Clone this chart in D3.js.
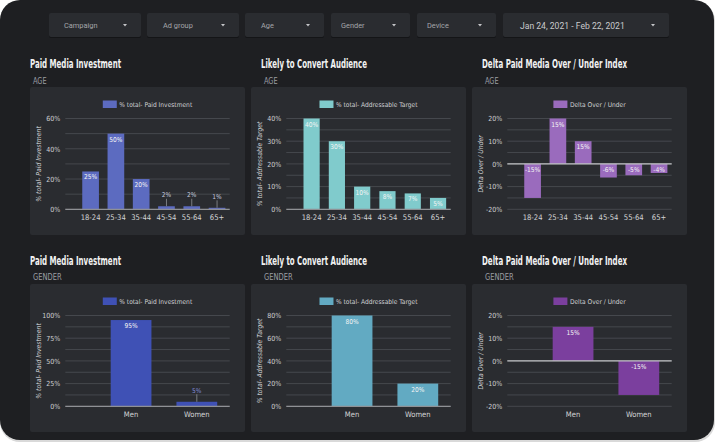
<!DOCTYPE html>
<html>
<head>
<meta charset="utf-8">
<script src="https://cdn.jsdelivr.net/npm/d3@7"></script>
<style>
html, body { margin: 0; padding: 0; background: #ffffff; }
svg { display: block; }
.chart_text { font-family: "Liberation Sans Narrow", "DejaVu Sans Condensed", Roboto, sans-serif; }
.filter_text { font-family: Roboto, "Noto Sans", sans-serif; }
</style>
</head>
<body>
<svg id="view" width="718" height="443"></svg>
<script>

// ---- data ----
var filter_labels= ["Campaign", "Ad group", "Age", "Gender", "Device", "Jan 24, 2021 - Feb 22, 2021"];

var age_groups= ["18-24", "25-34", "35-44", "45-54", "55-64", "65+"];
var gender_groups= ["Men", "Women"];

var age_paid= [25, 50, 20, 2, 2, 1];
var age_paid_labels= ["25%", "50%", "20%", "2%", "2%", "1%"];
var age_target= [40, 30, 10, 8, 7, 5];
var age_target_labels= ["40%", "30%", "10%", "8%", "7%", "5%"];
var age_delta= [-15, 20, 10, -6, -5, -4];
var age_delta_labels= ["-15%", "15%", "15%", "-6%", "-5%", "-4%"];

var gender_paid= [95, 5];
var gender_paid_labels= ["95%", "5%"];
var gender_target= [80, 20];
var gender_target_labels= ["80%", "20%"];
var gender_delta= [15, -15];
var gender_delta_labels= ["15%", "-15%"];

var ticks_age_paid= [0, 20, 40, 60];
var ticks_age_target= [0, 10, 20, 30, 40];
var ticks_delta= [-20, -10, 0, 10, 20];
var ticks_gender_paid= [0, 25, 50, 75, 100];
var ticks_gender_target= [0, 20, 40, 60, 80];

var series_paid= "% total- Paid Investment";
var series_target= "% total- Addressable Target";
var series_delta= "Delta Over / Under";

// ---- page ----
var svg= d3.select("#view");

svg.append("rect")
	.attr("x", 0).attr("y", 1)
	.attr("width", 715).attr("height", 441)
	.attr("rx", 20)
	.attr("fill", "#d9d9d9");

svg.append("rect")
	.attr("x", 0).attr("y", 0)
	.attr("width", 714).attr("height", 440)
	.attr("rx", 20)
	.attr("fill", "#1e1f22");

// filter bar
var filter_x= [49, 147, 245, 331, 417, 503];
var filter_w= [92, 92, 79, 79, 79, 166];
var filter_pad= [15, 16, 16, 10, 10, 17];

for ((i= 0); (i< filter_labels.length); (i++)) {
	var fg= svg.append("g").attr("transform", "translate(" + filter_x[i] + ",13)");
	fg.append("rect")
		.attr("y", 1)
		.attr("width", filter_w[i]).attr("height", 24)
		.attr("rx", 2)
		.attr("fill", "#141517");
	fg.append("rect")
		.attr("width", filter_w[i]).attr("height", 24)
		.attr("rx", 2)
		.attr("fill", "#2a2c30");
	fg.append("text")
		.attr("class", "filter_text")
		.attr("x", filter_pad[i])
		.attr("y", 12.5)
		.attr("dominant-baseline", "central")
		.attr("font-size", (i== 5) ? 8.6 : 7.4)
		.attr("fill", (i== 5) ? "#c9cacc" : "#a4a6aa")
		.text(filter_labels[i]);
	var tx= filter_w[i]- 16;
	fg.append("path")
		.attr("d", "M" + (tx- 2) + ",11 L" + (tx+ 2) + ",11 L" + tx + ",13.5 Z")
		.attr("fill", "#c4c5c8");
}

// titles
function add_title(x, y, title, tlen, sub, slen) {
	svg.append("text")
		.attr("class", "chart_text")
		.attr("x", x).attr("y", y)
		.attr("font-size", 12.5)
		.attr("font-weight", "bold")
		.attr("fill", "#f2f2f2")
		.attr("textLength", tlen)
		.attr("lengthAdjust", "spacingAndGlyphs")
		.text(title);
	svg.append("text")
		.attr("class", "chart_text")
		.attr("x", x+ 3).attr("y", y+ 15.5)
		.attr("font-size", 9.4)
		.attr("fill", "#9c9ea2")
		.attr("textLength", slen)
		.attr("lengthAdjust", "spacingAndGlyphs")
		.text(sub);
}

add_title(30, 68, "Paid Media Investment", 91, "AGE", 13.6);
add_title(261, 68, "Likely to Convert Audience", 106, "AGE", 13.6);
add_title(482, 68, "Delta Paid Media Over / Under Index", 145, "AGE", 13.6);
add_title(30, 264.5, "Paid Media Investment", 91, "GENDER", 28.6);
add_title(261, 264.5, "Likely to Convert Audience", 106, "GENDER", 28.6);
add_title(482, 264.5, "Delta Paid Media Over / Under Index", 145, "GENDER", 28.6);

// one bar chart panel
function draw_panel(cfg) {
	var pw= 215, ph= 148;
	var left= 35.3, right= pw- 15.3, top= 31.5, bottom= 122.3;

	var g= svg.append("g")
		.attr("transform", "translate(" + cfg.x + "," + cfg.y + ")");

	g.append("rect")
		.attr("width", pw).attr("height", ph)
		.attr("rx", 2)
		.attr("fill", "#2a2c30");

	var n= cfg.cats.length;
	var step= (right- left)/(n+ 0.5);

	var x= d3.scaleBand()
		.domain(cfg.cats)
		.range([left+ step/2, right])
		.paddingInner(cfg.pad)
		.paddingOuter(cfg.pad/2);

	var y= d3.scaleLinear()
		.domain([cfg.ticks[0], cfg.ticks[cfg.ticks.length- 1]])
		.range([bottom, top]);

	// grid
	var grid_vals= d3.range(cfg.ticks[0], cfg.ticks[cfg.ticks.length- 1]+ 0.001, cfg.grid);
	g.selectAll(".grid")
		.data(grid_vals)
		.enter().append("line")
			.attr("x1", left).attr("x2", right)
			.attr("y1", function(d) { return y(d); })
			.attr("y2", function(d) { return y(d); })
			.attr("stroke", "#45484d")
			.attr("stroke-width", 1);

	// y axis
	var y_axis= g.append("g")
		.attr("transform", "translate(" + left + ",0)")
		.call(d3.axisLeft(y)
			.tickValues(cfg.ticks)
			.tickSize(0)
			.tickPadding(5)
			.tickFormat(function(d) { return d + "%"; }));
	y_axis.select(".domain").remove();
	y_axis.selectAll("text")
		.attr("class", "chart_text")
		.attr("font-size", 7)
		.attr("fill", "#cfd0d2");

	// x axis
	var x_axis= g.append("g")
		.attr("transform", "translate(0," + bottom + ")")
		.call(d3.axisBottom(x).tickSize(0).tickPadding(5));
	x_axis.select(".domain").remove();
	x_axis.selectAll("text")
		.attr("class", "chart_text")
		.attr("font-size", 7.6)
		.attr("fill", "#d3d4d6");

	// bars
	var rows= cfg.cats.map(function(c, i) {
		return { cat: c, value: cfg.values[i], label: cfg.labels[i] };
	});

	g.selectAll(".bar")
		.data(rows)
		.enter().append("rect")
			.attr("x", function(d) { return x(d.cat); })
			.attr("y", function(d) { return Math.min(y(d.value), y(0)); })
			.attr("width", x.bandwidth())
			.attr("height", function(d) { return Math.abs(y(d.value)- y(0)); })
			.attr("fill", cfg.color);

	// zero line
	g.append("line")
		.attr("x1", left).attr("x2", right)
		.attr("y1", y(0)).attr("y2", y(0))
		.attr("stroke", cfg.zero_color)
		.attr("stroke-width", 1.2);

	// value labels
	rows.forEach(function(d) {
		var h= Math.abs(y(d.value)- y(0));
		var cx= x(d.cat)+ x.bandwidth()/2;
		if (h< 8 && d.value> 0) {
			g.append("line")
				.attr("x1", cx).attr("x2", cx)
				.attr("y1", y(d.value)).attr("y2", y(d.value)- 7.5)
				.attr("stroke", "#8e9095")
				.attr("stroke-width", 0.8);
			g.append("text")
				.attr("class", "chart_text")
				.attr("x", cx).attr("y", y(d.value)- 11)
				.attr("text-anchor", "middle")
				.attr("dominant-baseline", "central")
				.attr("font-size", 6.6)
				.attr("fill", cfg.out_color)
				.text(d.label);
		} else {
			var ly= (d.value>= 0) ? y(d.value)+ 6 : y(0)+ 6;
			g.append("text")
				.attr("class", "chart_text")
				.attr("x", cx).attr("y", ly)
				.attr("text-anchor", "middle")
				.attr("dominant-baseline", "central")
				.attr("font-size", 6.6)
				.attr("fill", "#f4f4f4")
				.text(d.label);
		}
	});

	// y axis title
	g.append("text")
		.attr("class", "chart_text")
		.attr("transform", "translate(9," + ((top+ bottom)/2) + ") rotate(-90)")
		.attr("text-anchor", "middle")
		.attr("dominant-baseline", "central")
		.attr("font-size", 6.8)
		.attr("font-style", "italic")
		.attr("fill", "#d0d1d3")
		.text(cfg.series);

	// legend
	var legend= g.append("g");
	legend.append("rect")
		.attr("width", 14).attr("height", 7.5)
		.attr("fill", cfg.color);
	var legend_text= legend.append("text")
		.attr("class", "chart_text")
		.attr("x", 16.5).attr("y", 4)
		.attr("dominant-baseline", "central")
		.attr("font-size", 6.6)
		.attr("fill", "#cfd0d2")
		.text(cfg.series);
	var lw= 16.5+ legend_text.node().getComputedTextLength();
	legend.attr("transform", "translate(" + ((left+ right)/2- lw/2) + ",13.5)");
}

draw_panel({ x: 30, y: 87, cats: age_groups, values: age_paid, labels: age_paid_labels,
	ticks: ticks_age_paid, grid: 10, pad: 0.34, color: "#5c6bc0", out_color: "#c4c8dc",
	zero_color: "#8f9195", series: series_paid });
draw_panel({ x: 251, y: 87, cats: age_groups, values: age_target, labels: age_target_labels,
	ticks: ticks_age_target, grid: 5, pad: 0.36, color: "#80cbcc", out_color: "#c8e6e6",
	zero_color: "#8f9195", series: series_target });
draw_panel({ x: 472, y: 87, cats: age_groups, values: age_delta, labels: age_delta_labels,
	ticks: ticks_delta, grid: 5, pad: 0.34, color: "#9a6bbd", out_color: "#d8c4e6",
	zero_color: "#c2c3c6", series: series_delta });
draw_panel({ x: 30, y: 284, cats: gender_groups, values: gender_paid, labels: gender_paid_labels,
	ticks: ticks_gender_paid, grid: 12.5, pad: 0.38, color: "#3f51b5", out_color: "#7f8ad0",
	zero_color: "#8f9195", series: series_paid });
draw_panel({ x: 251, y: 284, cats: gender_groups, values: gender_target, labels: gender_target_labels,
	ticks: ticks_gender_target, grid: 10, pad: 0.38, color: "#62aac2", out_color: "#b8dce8",
	zero_color: "#8f9195", series: series_target });
draw_panel({ x: 472, y: 284, cats: gender_groups, values: gender_delta, labels: gender_delta_labels,
	ticks: ticks_delta, grid: 5, pad: 0.38, color: "#7b3f9e", out_color: "#c9a8de",
	zero_color: "#c2c3c6", series: series_delta });

</script>
</body>
</html>
